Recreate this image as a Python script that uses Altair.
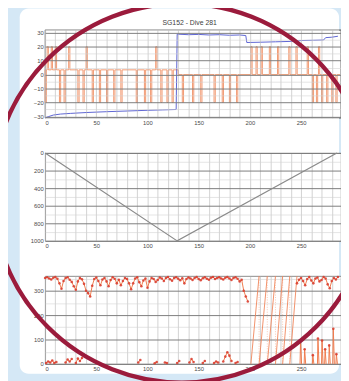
import altair as alt
import pandas as pd

TITLE = "SG152 - Dive 281"
X_GRID = [0, 10, 20, 30, 40, 50, 60, 70, 80, 90, 100, 110, 120, 130, 140,
          150, 160, 170, 180, 190, 200, 210, 220, 230, 240, 250, 260, 270, 280]
X_DOMAIN = [0, 289]

# ---------------- panel 1 : orange spikes + blue line ----------------
P1_Y_TICKS = [-30, -25, -20, -15, -10, -5, 0, 5, 10, 15, 20, 25, 30]
P1_DOMAIN = [-31, 32]
BASE_LEFT = 3.4
BASE_RIGHT = 0.0
STEP_X = 130
END_X = 288
SPIKE_HI = 20
SPIKE_LO = -20
SPIKE_W = 1.2
UP_SPIKES = [2, 6, 10, 23, 40, 108, 201, 206, 211, 219, 227, 238, 245, 256, 267]
DOWN_SPIKES = [0, 14, 18.5, 32, 37, 46, 53, 60, 67, 74, 89, 97, 103, 113, 119,
               124, 134, 144, 152, 165, 173, 180, 187, 261, 265, 270, 275, 280, 284]
BLUE_X = [0, 3, 8, 15, 25, 40, 60, 80, 100, 115, 128, 129, 140, 150, 160, 170,
          180, 190, 196, 197, 210, 225, 240, 250, 262, 272, 274, 280, 286]
BLUE_Y = [-31, -30.2, -29, -28.3, -27.8, -27.2, -26.6, -26.1, -25.6, -25.3, -25,
          29, 28.6, 28.8, 28.4, 28.6, 28.2, 28.4, 28, 23, 23.2, 23.5, 23.8, 24.4,
          24.6, 24.8, 26.5, 26.8, 27.5]

# ---------------- panel 2 : depth ----------------
P2_Y_TICKS = [0, 100, 200, 300, 400, 500, 600, 700, 800, 900, 1000]
DEPTH_X = [0, 129, 285]
DEPTH_Y = [0, 1000, 0]

# ---------------- panel 3 : heading ----------------
P3_Y_TICKS = [0, 50, 100, 150, 200, 250, 300, 350]
HDG1_X = [0, 2, 4, 6, 8, 10, 12, 14, 16, 18, 20, 22, 24, 26, 28, 30, 32, 34, 36, 38,
          40, 42, 44, 46, 48, 50, 52, 54, 56, 58, 60, 62, 64, 66, 68, 70, 72, 74, 76, 78,
          80, 82, 84, 86, 88, 90, 92, 94, 96, 98, 100, 102, 104, 106, 108, 110, 112, 114,
          116, 118, 120, 122, 124, 126, 128, 130, 132, 134, 136, 138, 140, 142, 144, 146,
          148, 150, 152, 154, 156, 158, 160, 162, 164, 166, 168, 170, 172, 174, 176, 178,
          180, 182, 184, 186, 188, 190, 192, 194, 196, 198]
HDG1_Y = [352, 355, 350, 346, 353, 356, 349, 330, 308, 340,
          352, 355, 345, 336, 318, 304, 338, 352, 347, 328,
          300, 290, 276, 320, 348, 354, 340, 322, 346, 352,
          338, 318, 344, 355, 349, 330, 345, 322, 340, 352,
          348, 330, 306, 330, 350, 355, 335, 318, 342, 350,
          312, 338, 352, 348, 336, 344, 354, 350, 340, 352,
          356, 347, 341, 352, 355, 349, 343, 351, 330, 348,
          354, 350, 344, 352, 356, 348, 343, 351, 355, 349,
          345, 353, 356, 348, 352, 355, 350, 346, 353, 356,
          350, 344, 352, 355, 349, 338, 345, 300, 276, 256]
HDG2_X = [246, 248, 250, 252, 254, 256, 258, 260, 262, 264, 266, 268, 270, 272,
          274, 276, 278, 280, 282, 284, 286]
HDG2_Y = [330, 345, 352, 340, 322, 348, 356, 342, 330, 350, 354, 338, 344, 356,
          350, 326, 310, 340, 352, 346, 356]
LOW_X = [1, 3, 5, 7, 9, 11, 20, 22, 24, 26, 30, 32, 34, 36, 91, 93, 107, 109, 117, 119,
         129, 131, 141, 143, 145, 154, 156, 165, 167, 169, 174, 176, 178, 180, 182, 186, 188]
LOW_Y = [4, 10, 6, 14, 4, 8, 6, 18, 10, 20, 4, 22, 12, 24, 6, 16, 3, 8, 6, 4,
         4, 12, 6, 20, 8, 4, 12, 4, 10, 6, 10, 30, 48, 34, 12, 4, 8]
LOW_SEG = [1, 1, 1, 1, 1, 1, 2, 2, 2, 2, 3, 3, 3, 3, 4, 4, 5, 5, 6, 6,
           7, 7, 8, 8, 8, 9, 9, 10, 10, 10, 11, 11, 11, 11, 11, 12, 12]
SAW_START = [201, 209, 217, 225, 232, 239]
SAW_END = [209, 217, 225, 232, 239, 246]
BAR_X = [249, 253, 261, 266, 270, 273, 277, 281, 284]
BAR_H = [96, 60, 36, 104, 96, 60, 76, 144, 40]

# ---------------- build tables ----------------
events = [(x, "spike", SPIKE_HI) for x in UP_SPIKES] + \
         [(x, "spike", SPIKE_LO) for x in DOWN_SPIKES] + [(STEP_X, "step", 0)]
events.sort()
pts = [(0, BASE_LEFT)]
for x, kind, peak in events:
    if kind == "step":
        pts += [(x, BASE_LEFT), (x, BASE_RIGHT)]
    else:
        b = BASE_LEFT if x < STEP_X else BASE_RIGHT
        pts += [(x, b), (x, peak), (x + SPIKE_W, peak), (x + SPIKE_W, b)]
pts.append((END_X, BASE_RIGHT))
orange_df = pd.DataFrame({"x": [p[0] for p in pts], "y": [p[1] for p in pts],
                          "i": list(range(len(pts)))})
blue_df = pd.DataFrame({"x": BLUE_X, "y": BLUE_Y, "i": list(range(len(BLUE_X)))})
depth_df = pd.DataFrame({"x": DEPTH_X, "y": DEPTH_Y})

rows = []
for k, (x, y) in enumerate(zip(HDG1_X, HDG1_Y)):
    rows.append({"x": x, "y": y, "seg": "t1", "i": k, "pt": 1})
for k, (x, y) in enumerate(zip(HDG2_X, HDG2_Y)):
    rows.append({"x": x, "y": y, "seg": "t2", "i": k, "pt": 1})
for k, (x, y, s) in enumerate(zip(LOW_X, LOW_Y, LOW_SEG)):
    rows.append({"x": x, "y": y, "seg": f"l{s}", "i": k, "pt": 1})
for k, (x, h) in enumerate(zip(BAR_X, BAR_H)):
    rows += [{"x": x, "y": 0, "seg": f"b{k}", "i": 0, "pt": 0},
             {"x": x + 0.5, "y": h, "seg": f"b{k}", "i": 1, "pt": 1},
             {"x": x + 1.5, "y": 0, "seg": f"b{k}", "i": 2, "pt": 0}]
saw_rows = []
for k, (a, b) in enumerate(zip(SAW_START, SAW_END)):
    saw_rows += [{"x": a, "y": 0, "seg": f"s{k}", "i": 0},
                 {"x": b, "y": 360, "seg": f"s{k}", "i": 1}]
hdg_df = pd.DataFrame(rows)
saw_df = pd.DataFrame(saw_rows)
wrap_df = pd.DataFrame({"x": SAW_START + SAW_END,
                        "y": [0] * len(SAW_START) + [360] * len(SAW_END)})

# ---------------- styling helpers ----------------
FONT = "Liberation Sans"
LBL = dict(labelFontSize=6, labelColor="#4a4a4a", labelFont=FONT, labelPadding=2,
           labelOverlap=False, ticks=False, domain=False, title=None)


def x_axis(z=0):
    return alt.Axis(values=X_GRID, labelExpr="datum.value % 50 === 0 ? datum.label : ''",
                    grid=True, gridColor="#b4b4b4", gridWidth=0.6, zindex=z, **LBL)


def y_axis(values, major, z=0, fmt="d"):
    return alt.Axis(values=values, format=fmt,
                    labelExpr=f"datum.value % {major} === 0 ? datum.label : ''",
                    grid=True,
                    gridColor={"condition": {"test": f"datum.value % {major} === 0",
                                             "value": "#7c7c7c"}, "value": "#d2d2d2"},
                    gridWidth={"condition": {"test": f"datum.value % {major} === 0",
                                             "value": 1}, "value": 0.6},
                    zindex=z, **LBL)


W, H = 296, 90
one = pd.DataFrame({"k": [0]})

# panel 1 (also carries the white rounded card behind everything)
card = alt.Chart(one).mark_rect(color="white", cornerRadius=9).encode(
    x=alt.value(-26), x2=alt.value(301), y=alt.value(-22), y2=alt.value(352))
frame = alt.Chart(one).mark_rect(filled=False, color="#6e6e6e", strokeWidth=0.8).encode(
    x=alt.value(0), x2=alt.value("width"), y=alt.value(0), y2=alt.value("height"))
title_txt = alt.Chart(one).mark_text(fontSize=7, font=FONT, color="#404040",
                                     align="center", baseline="middle").encode(
    x=alt.value(W / 2), y=alt.value(-7), text=alt.value(TITLE))
xs1 = alt.X("x:Q", scale=alt.Scale(domain=X_DOMAIN, nice=False), axis=x_axis(1))
ys1 = alt.Y("y:Q", scale=alt.Scale(domain=P1_DOMAIN, nice=False),
            axis=y_axis(P1_Y_TICKS, 10, 1))
orange = alt.Chart(orange_df).mark_line(color="#f29870", strokeWidth=1).encode(
    x=xs1, y=ys1, order="i:Q")
blue = alt.Chart(blue_df).mark_line(color="#5b63d3", strokeWidth=1).encode(
    x=xs1, y=ys1, order="i:Q")
p1 = alt.layer(card, frame, title_txt, orange, blue).properties(width=W, height=H)

# panel 2
p2 = alt.Chart(depth_df).mark_line(color="#8a8a8a", strokeWidth=1.2).encode(
    x=alt.X("x:Q", scale=alt.Scale(domain=X_DOMAIN, nice=False), axis=x_axis()),
    y=alt.Y("y:Q", scale=alt.Scale(domain=[0, 1000], reverse=True, nice=False),
            axis=y_axis(P2_Y_TICKS, 200)),
).properties(width=W, height=H)

# panel 3 (also carries the red circle on top)
xs3 = alt.X("x:Q", scale=alt.Scale(domain=X_DOMAIN, nice=False), axis=x_axis())
ys3 = alt.Y("y:Q", scale=alt.Scale(domain=[0, 360], nice=False),
            axis=y_axis(P3_Y_TICKS, 100))
wraps = alt.Chart(wrap_df).mark_line(color="#f4b295", strokeWidth=0.7,
                                     strokeDash=[1, 1.5]).encode(
    x=xs3, y=ys3, detail="x:N")
saw = alt.Chart(saw_df).mark_line(color="#f08458", strokeWidth=0.9).encode(
    x=xs3, y=ys3, detail="seg:N", order="i:Q")
hline = alt.Chart(hdg_df).mark_line(color="#f07a4c", strokeWidth=1).encode(
    x=xs3, y=ys3, detail="seg:N", order="i:Q")
hpts = alt.Chart(hdg_df).transform_filter("datum.pt == 1").mark_circle(
    color="#d8382a", size=7, opacity=0.85).encode(x=xs3, y=ys3)
ring = alt.Chart(one).mark_point(shape="circle", filled=False, size=150700,
                                 color="#9b1b3c", strokeWidth=4.5, opacity=1).encode(
    x=alt.value(140), y=alt.value(-85))
p3 = alt.layer(wraps, saw, hline, hpts, ring).properties(width=W, height=H)

chart = alt.vconcat(p1, p2, p3, spacing=36, bounds="flush").properties(
    padding={"left": 38, "top": 18, "right": 0, "bottom": 0},
    autosize=alt.AutoSizeParams(type="none"),
    background="#d5e8f6",
).configure_view(stroke="#6e6e6e", strokeWidth=0.8, fill="white")
chart.params = [alt.VariableParameter(name="width", value=303),
                alt.VariableParameter(name="height", value=355)]

chart.save("out.html", embed_options={"renderer": "svg", "actions": False})
